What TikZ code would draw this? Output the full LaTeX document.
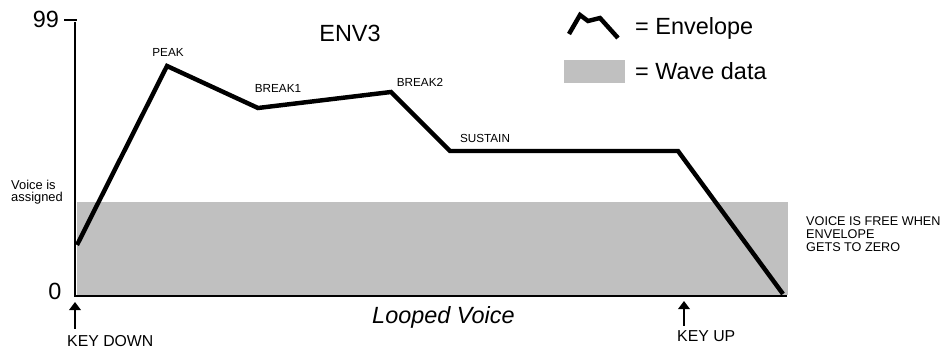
\documentclass[tikz,border=0pt]{standalone}
\usepackage{fontspec}
\setmainfont{Liberation Sans}
\usetikzlibrary{arrows.meta}
\definecolor{wavegray}{RGB}{192,192,192}
\begin{document}
\begin{tikzpicture}[x=0.03cm,y=-0.03cm,>={Triangle[width=10pt,length=7pt]},
  env/.style={line width=3.8pt,line join=miter},
  axis/.style={line width=2pt},
  lbl/.style={inner sep=0pt,font=\fontsize{10}{12}\selectfont},
  big/.style={inner sep=0pt,font=\fontsize{20}{24}\selectfont},
  keylbl/.style={inner sep=0pt,anchor=base west,font=\fontsize{13.5}{16}\selectfont}]
\useasboundingbox (0,0) rectangle (941,349);

\fill[wavegray](77,202) rectangle (788,295);

\coordinate(T1) at (64,20);
\coordinate(T2) at (77,20);
\coordinate(Y) at (75,22);
\coordinate(O) at (75,296);
\coordinate(X) at (787,296);
\draw[axis](T1)--(T2);
\draw[axis](Y)--(O)--(X);

\node[big,anchor=base](N99) at (46,28){99};
\node[big,anchor=base](N0) at (55,300){0};
\node[big,anchor=base](ENV) at (350,42){ENV3};

\coordinate(E0) at (77,245);
\coordinate(PEAK) at (167,66);
\coordinate(B1) at (258,108);
\coordinate(B2) at (391,92);
\coordinate(S1) at (450,151);
\coordinate(S2) at (678,151);
\coordinate(E1) at (783,294);
\draw[env](E0)--(PEAK)--(B1)--(B2)--(S1)--(S2)--(E1);

\node[lbl,anchor=base](LP) at (168,57){PEAK};
\node[lbl,anchor=base](LB1) at (278,93){BREAK1};
\node[lbl,anchor=base](LB2) at (420,87){BREAK2};
\node[lbl,anchor=base](LS) at (485,143){SUSTAIN};

\node[inner sep=0pt,anchor=north west,align=left,font=\fontsize{11}{10.5}\selectfont](VA) at (11,180){Voice is\\assigned};
\node[inner sep=0pt,anchor=north west,align=left,font=\fontsize{10.8}{11.1}\selectfont](VF) at (806,216){VOICE IS FREE WHEN\\ENVELOPE\\GETS TO ZERO};

\coordinate(L1) at (569,34);
\coordinate(L2) at (580,15);
\coordinate(L3) at (588,21);
\coordinate(L4) at (600,18);
\coordinate(L5) at (618,38);
\draw[env](L1)--(L2)--(L3)--(L4)--(L5);
\node[big,anchor=base west](LE) at (635,35){= Envelope};
\fill[wavegray](564,60) rectangle (625,83);
\node[big,anchor=base west](LW) at (635,80){= Wave data};

\node[big,anchor=base west,font=\fontsize{20}{24}\selectfont\itshape](LV) at (372,324){Looped Voice};

\coordinate(KD1) at (75,329);
\coordinate(KD2) at (75,302);
\draw[->,line width=1.6pt](KD1)--(KD2);
\node[keylbl](KD) at (67,347){KEY DOWN};

\coordinate(KU1) at (684,326);
\coordinate(KU2) at (684,301);
\draw[->,line width=1.6pt](KU1)--(KU2);
\node[keylbl](KU) at (677,342){KEY UP};

\end{tikzpicture}
\end{document}
